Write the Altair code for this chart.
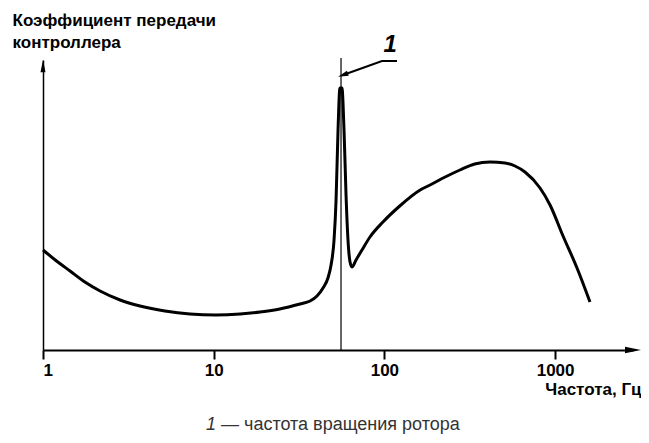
import altair as alt
import pandas as pd

# Transfer curve (frequency in Hz, gain in arbitrary units)
freq = [1.0, 1.18, 1.44, 1.76, 2.16, 2.83, 3.70, 5.18, 7.26, 10.3, 14.3, 18.7, 24.4, 32.0,
        36.7, 40.3, 43.7, 46.7, 48.7, 50.7, 52.1, 53.5, 54.9, 56.4, 58.0, 59.6, 61.2, 62.9,
        64.6, 68.2, 73.9, 82.3, 98.1, 123, 162, 185, 227, 277, 338, 416, 509, 582, 666,
        816, 934, 1113, 1344, 1601]
gain = [100, 90, 79, 68, 59, 50, 44, 39, 36, 35, 36, 38, 41, 46,
        49, 54, 62, 72, 85, 110, 150, 220, 262, 262, 220, 155, 110, 88,
        83, 90, 100, 113, 128, 144, 160, 165, 173, 180, 186, 188, 187, 184, 178,
        162, 145, 114, 82, 48]

tick_values = [1, 10, 100, 1000]
rotor_freq = [55.7]
rotor_top = [292]

leader_f = [57.2, 96.8, 118.5]
leader_g = [275, 289, 289]
label_f = [108]
label_g = [305]

arrow_x_f = [2860]
arrow_x_g = [0]
arrow_y_f = [1]
arrow_y_g = [284]

y_title = ["Коэффициент передачи", "контроллера"]
x_title = "Частота, Гц"
footer_num = "1"
footer_text = "— частота вращения ротора"

FONT = "Liberation Sans"

xs = alt.Scale(type="log", domain=[1, 2860], nice=False)
ys = alt.Scale(domain=[0, 290], nice=False)

df = pd.DataFrame({"f": freq, "g": gain})

curve = alt.Chart(df).mark_line(
    color="black", strokeWidth=3, interpolate="monotone", clip=False
).encode(
    x=alt.X("f:Q", scale=xs, axis=alt.Axis(
        values=tick_values, format="d", grid=False,
        domainColor="black", domainWidth=2,
        tickColor="black", tickWidth=2, tickSize=9,
        labelFont=FONT, labelFontSize=17, labelFontWeight="bold", labelColor="black",
        labelPadding=3, labelOverlap=False,
        title=x_title, titleFont=FONT, titleFontSize=17, titleFontWeight="bold",
        titleColor="black", titleAngle=0, titleAlign="right", titleBaseline="alphabetic",
        titleX=598, titleY=44,
    )),
    y=alt.Y("g:Q", scale=ys, axis=alt.Axis(
        ticks=False, labels=False, grid=False,
        domainColor="black", domainWidth=1.5,
        title=y_title, titleFont=FONT, titleFontSize=17, titleFontWeight="bold",
        titleColor="black", titleAngle=0, titleAlign="left", titleBaseline="top",
        titleX=-31, titleY=-48, titleLineHeight=22,
    )),
)

rot_df = pd.DataFrame({"f": rotor_freq, "g": [0], "g2": rotor_top})
rotor = alt.Chart(rot_df).mark_rule(color="black", strokeWidth=1.2, clip=False).encode(
    x=alt.X("f:Q", scale=xs), y=alt.Y("g:Q", scale=ys), y2="g2:Q"
)

lead_df = pd.DataFrame({"f": leader_f, "g": leader_g, "o": list(range(len(leader_f)))})
leader = alt.Chart(lead_df).mark_line(color="black", strokeWidth=2, clip=False).encode(
    x=alt.X("f:Q", scale=xs), y=alt.Y("g:Q", scale=ys), order="o:Q"
)
lead_head = alt.Chart(lead_df.iloc[[0]]).mark_point(
    shape="M -1 0 L 1 -0.5 L 1 0.5 Z", angle=340, size=110, filled=True,
    color="black", opacity=1, clip=False
).encode(x=alt.X("f:Q", scale=xs), y=alt.Y("g:Q", scale=ys))

lab_df = pd.DataFrame({"f": label_f, "g": label_g, "t": ["1"]})
label = alt.Chart(lab_df).mark_text(
    font=FONT, fontSize=24, fontStyle="italic", fontWeight="bold", color="black",
    baseline="middle", align="center", clip=False
).encode(x=alt.X("f:Q", scale=xs), y=alt.Y("g:Q", scale=ys), text="t:N")

ax_df = pd.DataFrame({"f": arrow_x_f, "g": arrow_x_g})
x_arrow = alt.Chart(ax_df).mark_point(
    shape="M -1 -0.4 L 1 0 L -1 0.4 Z", size=256, filled=True, color="black",
    opacity=1, clip=False
).encode(x=alt.X("f:Q", scale=xs), y=alt.Y("g:Q", scale=ys))

ay_df = pd.DataFrame({"f": arrow_y_f, "g": arrow_y_g})
y_arrow = alt.Chart(ay_df).mark_point(
    shape="M -0.4 1 L 0 -1 L 0.4 1 Z", size=160, filled=True, color="black",
    opacity=1, clip=False
).encode(x=alt.X("f:Q", scale=xs), y=alt.Y("g:Q", scale=ys))

foot_df = pd.DataFrame({"a": [footer_num], "b": [footer_text]})
foot1 = alt.Chart(foot_df).mark_text(
    font=FONT, fontSize=18, fontStyle="italic", color="#333333", align="left",
    baseline="alphabetic", clip=False
).encode(text="a:N", x=alt.value(163), y=alt.value(370))
foot2 = alt.Chart(foot_df).mark_text(
    font=FONT, fontSize=18, color="#333333", align="left",
    baseline="alphabetic", clip=False
).encode(text="b:N", x=alt.value(178), y=alt.value(370))

chart = alt.layer(
    rotor, curve, leader, lead_head, label, x_arrow, y_arrow, foot1, foot2
).properties(
    width=590, height=290,
    autosize=alt.AutoSizeParams(type="none"),
    padding={"left": 35, "top": 52, "right": 8, "bottom": 85},
    background="white",
).configure_view(stroke=None)

chart.save("out.html", embed_options={"renderer": "svg", "actions": False})
